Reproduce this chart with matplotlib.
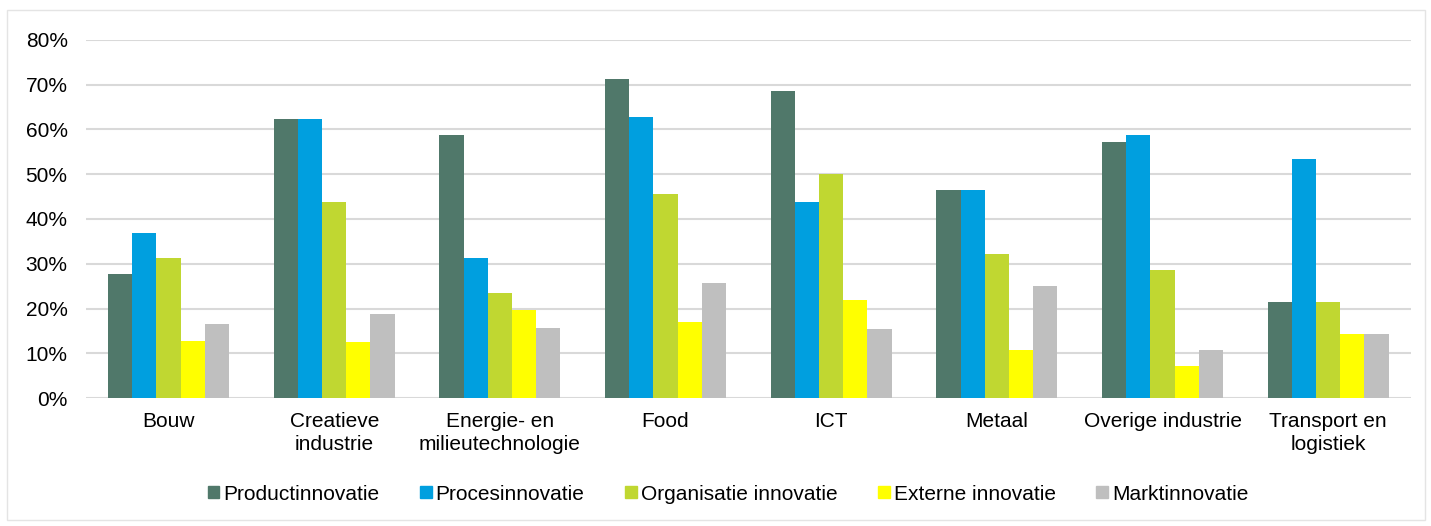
import numpy as np
import matplotlib.pyplot as plt
from matplotlib.patches import Patch, Rectangle
from matplotlib.ticker import PercentFormatter

plt.rcParams['font.family'] = ['Liberation Sans', 'DejaVu Sans']

CATEGORIES = ["Bouw", "Creatieve\nindustrie", "Energie- en\nmilieutechnologie", "Food",
              "ICT", "Metaal", "Overige industrie", "Transport en\nlogistiek"]
SERIES = ["Productinnovatie", "Procesinnovatie", "Organisatie innovatie",
          "Externe innovatie", "Marktinnovatie"]

product = [27.8, 62.3, 58.7, 71.3, 68.6, 46.4, 57.1, 21.4]
proces = [36.9, 62.3, 31.3, 62.7, 43.7, 46.4, 58.8, 53.5]
organisatie = [31.3, 43.7, 23.4, 45.5, 50.0, 32.1, 28.5, 21.4]
extern = [12.8, 12.5, 19.6, 17.0, 21.8, 10.7, 7.1, 14.3]
markt = [16.6, 18.7, 15.7, 25.7, 15.5, 25.0, 10.7, 14.3]

VALUES = [product, proces, organisatie, extern, markt]
COLORS = ["#50786a", "#009fdf", "#c0d731", "#ffff00", "#bfbfbf"]

W, H = 1431, 526
fig = plt.figure(figsize=(W / 100, H / 100), dpi=100)
fig.patches.append(Rectangle((7 / W, 6 / H), 1418 / W, 510 / H, transform=fig.transFigure,
                             fill=False, edgecolor="#e4e4e4", linewidth=1))

ax = fig.add_axes([85.7 / W, 1 - 398 / H, (1411 - 85.7) / W, (398 - 40) / H])

x = np.arange(len(CATEGORIES))
bw = 0.146
for i, (name, vals, c) in enumerate(zip(SERIES, VALUES, COLORS)):
    ax.bar(x + (i - 2) * bw, vals, width=bw, color=c, label=name, zorder=3)

ax.set_xlim(-0.5, len(CATEGORIES) - 0.5)
ax.set_ylim(0, 80)
ax.set_yticks(np.arange(0, 81, 10))
ax.yaxis.set_major_formatter(PercentFormatter(decimals=0))
ax.grid(axis="y", color="#d9d9d9", linewidth=1.5, zorder=0)
for s in ax.spines.values():
    s.set_visible(False)
ax.tick_params(length=0, labelsize=15, colors="#000000")
ax.tick_params(axis="y", pad=13)
ax.tick_params(axis="x", pad=10)
ax.set_xticks(x)
ax.set_xticklabels(CATEGORIES, linespacing=1.3)

handles = [Patch(color=c, label=n) for n, c in zip(SERIES, COLORS)]
fig.legend(handles=handles, loc="center", bbox_to_anchor=(728 / W, 1 - 494 / H), ncol=5,
           frameon=False, fontsize=15, handlelength=0.55, handleheight=0.55,
           handletextpad=0.2, columnspacing=1.95)

fig.savefig("out.png", dpi=100)
